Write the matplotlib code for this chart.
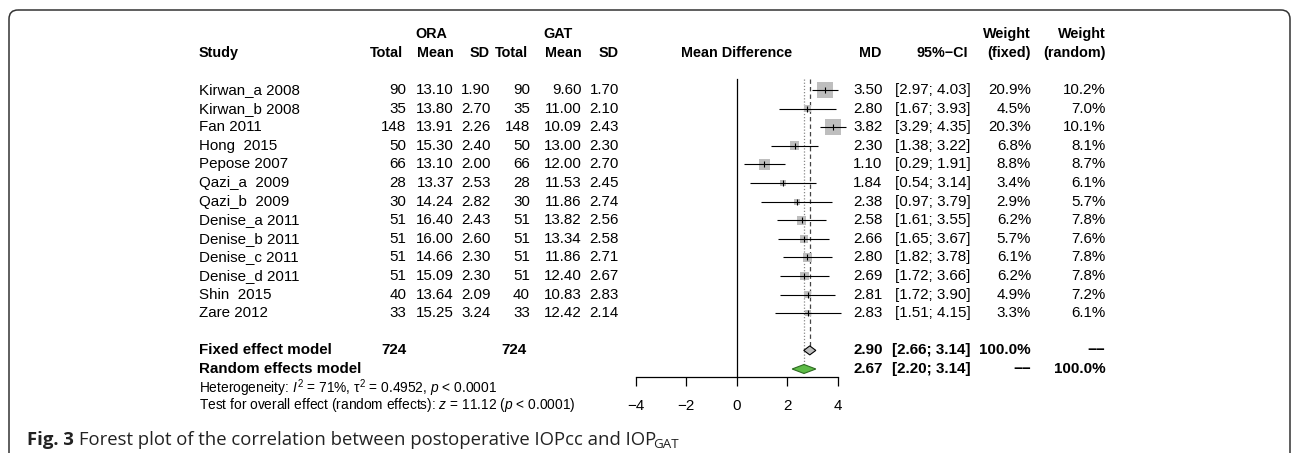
import numpy as np
import matplotlib
matplotlib.use("Agg")
import matplotlib.pyplot as plt
from matplotlib.patches import Polygon, FancyBboxPatch

plt.rcParams['font.family'] = ['Liberation Sans', 'DejaVu Sans']
plt.rcParams['mathtext.fontset'] = 'custom'
plt.rcParams['mathtext.rm'] = 'Liberation Sans'
plt.rcParams['mathtext.it'] = 'Liberation Sans:italic'
plt.rcParams['mathtext.bf'] = 'Liberation Sans:bold'

# --- data ---
studies = ["Kirwan_a 2008", "Kirwan_b 2008", "Fan 2011", "Hong  2015", "Pepose 2007",
           "Qazi_a  2009", "Qazi_b  2009", "Denise_a 2011", "Denise_b 2011",
           "Denise_c 2011", "Denise_d 2011", "Shin  2015", "Zare 2012"]
ora_n = [90, 35, 148, 50, 66, 28, 30, 51, 51, 51, 51, 40, 33]
ora_mean = [13.10, 13.80, 13.91, 15.30, 13.10, 13.37, 14.24, 16.40, 16.00, 14.66, 15.09, 13.64, 15.25]
ora_sd = [1.90, 2.70, 2.26, 2.40, 2.00, 2.53, 2.82, 2.43, 2.60, 2.30, 2.30, 2.09, 3.24]
gat_n = [90, 35, 148, 50, 66, 28, 30, 51, 51, 51, 51, 40, 33]
gat_mean = [9.60, 11.00, 10.09, 13.00, 12.00, 11.53, 11.86, 13.82, 13.34, 11.86, 12.40, 10.83, 12.42]
gat_sd = [1.70, 2.10, 2.43, 2.30, 2.70, 2.45, 2.74, 2.56, 2.58, 2.71, 2.67, 2.83, 2.14]
md = [3.50, 2.80, 3.82, 2.30, 1.10, 1.84, 2.38, 2.58, 2.66, 2.80, 2.69, 2.81, 2.83]
ci_lo = [2.97, 1.67, 3.29, 1.38, 0.29, 0.54, 0.97, 1.61, 1.65, 1.82, 1.72, 1.72, 1.51]
ci_hi = [4.03, 3.93, 4.35, 3.22, 1.91, 3.14, 3.79, 3.55, 3.67, 3.78, 3.66, 3.90, 4.15]
w_fixed = [20.9, 4.5, 20.3, 6.8, 8.8, 3.4, 2.9, 6.2, 5.7, 6.1, 6.2, 4.9, 3.3]
w_random = [10.2, 7.0, 10.1, 8.1, 8.7, 6.1, 5.7, 7.8, 7.6, 7.8, 7.8, 7.2, 6.1]

fixed_md, fixed_lo, fixed_hi = 2.90, 2.66, 3.14
random_md, random_lo, random_hi = 2.67, 2.20, 3.14
total_ora, total_gat = 724, 724
xticks = [-4, -2, 0, 2, 4]

# --- layout (pixels) ---
W, H = 1292, 453
Y0, DY = 90.0, 18.6          # first study row, row spacing
X0, XS = 736.7, 25.2         # pixel of MD=0, pixels per unit
FS = 10.9
FS_HEAD = 10.4
FS_SMALL = 9.9

def ry(i):
    return Y0 + DY * i

fig = plt.figure(figsize=(W / 100, H / 100), dpi=100)
ax = fig.add_axes([0, 0, 1, 1])
ax.set_xlim(0, W)
ax.set_ylim(H, 0)
ax.axis('off')

# frame
ax.add_patch(FancyBboxPatch((9, 10), 1281, 480, boxstyle="round,pad=0,rounding_size=9",
                            fc='none', ec='#333333', lw=1.1, clip_on=False))

# column right edges
c_study = 199
c_on, c_om, c_os = 406.5, 454, 490.5
c_gn, c_gm, c_gs = 530, 581.5, 619
c_md, c_ci = 882.5, 970.5
c_wf, c_wr = 1031, 1105.5

hb = dict(fontsize=FS_HEAD, fontweight='bold', va='center')
h1, h2 = ry(-3), ry(-2)
ax.text(431, h1, "ORA", ha='center', **hb)
ax.text(558, h1, "GAT", ha='center', **hb)
ax.text(c_wf, h1, "Weight", ha='right', **hb)
ax.text(c_wr, h1, "Weight", ha='right', **hb)
ax.text(c_study, h2, "Study", ha='left', **hb)
for x, s in [(c_on - 4, "Total"), (c_om, "Mean"), (c_os - 1, "SD"), (c_gn - 2, "Total"),
             (c_gm, "Mean"), (c_gs, "SD"), (c_md - 1.5, "MD"), (c_ci - 2.5, "95%\u2212CI"),
             (c_wf, "(fixed)"), (c_wr, "(random)")]:
    ax.text(x, h2, s, ha='right', **hb)
ax.text(X0, h2, "Mean Difference", ha='center', **hb)

tk = dict(fontsize=FS, va='center')
for i in range(len(studies)):
    y = ry(i)
    ax.text(c_study, y, studies[i], ha='left', **tk)
    ax.text(c_on, y, f"{ora_n[i]}", ha='right', **tk)
    ax.text(c_om, y, f"{ora_mean[i]:.2f}", ha='right', **tk)
    ax.text(c_os, y, f"{ora_sd[i]:.2f}", ha='right', **tk)
    ax.text(c_gn, y, f"{gat_n[i]}", ha='right', **tk)
    ax.text(c_gm, y, f"{gat_mean[i]:.2f}", ha='right', **tk)
    ax.text(c_gs, y, f"{gat_sd[i]:.2f}", ha='right', **tk)
    ax.text(c_md, y, f"{md[i]:.2f}", ha='right', **tk)
    ax.text(c_ci, y, f"[{ci_lo[i]:.2f}; {ci_hi[i]:.2f}]", ha='right', **tk)
    ax.text(c_wf, y, f"{w_fixed[i]:.1f}%", ha='right', **tk)
    ax.text(c_wr, y, f"{w_random[i]:.1f}%", ha='right', **tk)

sb = dict(fontsize=FS, fontweight='bold', va='center')
dash = "\u2212\u2212"
yf, yr = ry(14), ry(15)
ax.text(c_study, yf, "Fixed effect model", ha='left', **sb)
ax.text(c_on, yf, f"{total_ora}", ha='right', **sb)
ax.text(c_gn - 3, yf, f"{total_gat}", ha='right', **sb)
ax.text(c_md, yf, f"{fixed_md:.2f}", ha='right', **sb)
ax.text(c_ci, yf, f"[{fixed_lo:.2f}; {fixed_hi:.2f}]", ha='right', **sb)
ax.text(c_wf, yf, "100.0%", ha='right', **sb)
ax.text(c_wr, yf, dash, ha='right', **sb)
ax.text(c_study, yr, "Random effects model", ha='left', **sb)
ax.text(c_md, yr, f"{random_md:.2f}", ha='right', **sb)
ax.text(c_ci, yr, f"[{random_lo:.2f}; {random_hi:.2f}]", ha='right', **sb)
ax.text(c_wf, yr, dash, ha='right', **sb)
ax.text(c_wr, yr, "100.0%", ha='right', **sb)

ax.text(c_study, ry(16.02), r"Heterogeneity: $I^2$ = 71%, $\mathrm{\tau}^2$ = 0.4952, $p$ < 0.0001",
        ha='left', va='center', fontsize=FS_SMALL)
ax.text(c_study, ry(16.95), r"Test for overall effect (random effects): $z$ = 11.12 ($p$ < 0.0001)",
        ha='left', va='center', fontsize=FS_SMALL)

# --- forest panel ---
axf = fig.add_axes([0, 0, 1, 1])
axf.set_xlim(-X0 / XS, (W - X0) / XS)
axf.set_ylim(H, 0)
axf.patch.set_visible(False)
for s in ['top', 'left', 'right']:
    axf.spines[s].set_visible(False)
axis_y = 377.3
axf.spines['bottom'].set_position(('data', axis_y))
axf.spines['bottom'].set_bounds(xticks[0], xticks[-1])
axf.spines['bottom'].set_linewidth(0.9)
axf.set_yticks([])
axf.set_xticks(xticks)
axf.set_xticklabels([f"{t}".replace("-", "\u2212") for t in xticks])
axf.tick_params(axis='x', direction='out', length=6.3, width=0.9, pad=9.5, labelsize=FS)

top = ry(-0.57)
axf.plot([0, 0], [top, axis_y], color='black', lw=0.9)
axf.plot([fixed_md, fixed_md], [top, yf - 4.5], color='#444444', lw=0.9, ls=(0, (3.5, 2.5)))
axf.plot([random_md, random_md], [top, yr - 5], color='#888888', lw=0.9, ls=(0, (1, 1.5)))

ys = np.array([ry(i) for i in range(len(studies))])
side_pt = 3.5 * np.sqrt(np.array(w_fixed)) * 0.72
axf.scatter(md, ys, s=side_pt ** 2, marker='s', color='#BEBEBE', lw=0, zorder=3)
axf.hlines(ys, ci_lo, ci_hi, color='black', lw=0.8, zorder=4)
axf.scatter(md, ys, s=14, marker='|', color='black', lw=0.8, zorder=5)

hh = 4.5
axf.add_patch(Polygon([(fixed_lo, yf), (fixed_md, yf - hh), (fixed_hi, yf), (fixed_md, yf + hh)],
                      closed=True, fc='#BEBEBE', ec='black', lw=0.8, zorder=5))
axf.add_patch(Polygon([(random_lo, yr), (random_md, yr - hh), (random_hi, yr), (random_md, yr + hh)],
                      closed=True, fc='#5DBB46', ec='#2E6B22', lw=0.8, zorder=5))

# --- caption ---
cap_y = 445
r = fig.canvas.get_renderer()
t1 = ax.text(27, cap_y, "Fig. 3", ha='left', va='baseline', fontsize=13.3,
             fontweight='bold', family='Open Sans', color='#222222')
bb = t1.get_window_extent(renderer=r)
x2 = bb.x1 + 5
t2 = ax.text(x2, cap_y, "Forest plot of the correlation between postoperative IOPcc and IOP",
             ha='left', va='baseline', fontsize=13.3, family='Open Sans', color='#222222')
bb2 = t2.get_window_extent(renderer=r)
ax.text(bb2.x1 - 3, cap_y + 3, "GAT", ha='left', va='baseline', fontsize=9.6,
        family='Open Sans', color='#222222')

fig.savefig("out.png", dpi=100)
